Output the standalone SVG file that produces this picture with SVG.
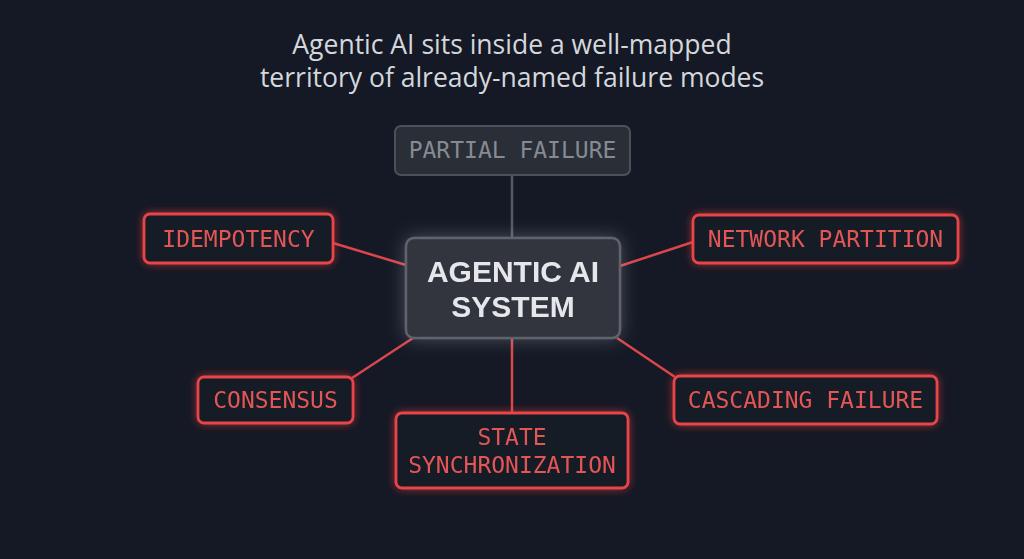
<svg xmlns="http://www.w3.org/2000/svg" width="1024" height="559" viewBox="0 0 1024 559">
<defs>
<style>
.title{font-family:"Open Sans","Liberation Sans",sans-serif;font-size:26.5px;fill:#d4d7dc;text-anchor:middle}
.mono{font-family:"DejaVu Sans Mono","Liberation Mono",monospace;font-size:23px;text-anchor:middle}
.red{fill:#e25656}
.gray{fill:#868a92}
.rbox{fill:#161b26;stroke:#e8444a;stroke-width:2.8}
.gbox{fill:#2a2e37;stroke:#4c5059;stroke-width:2}
.cbox{fill:#30343d;stroke:#60646c;stroke-width:2.5}
.center{font-family:"Liberation Sans",Arial,sans-serif;font-weight:bold;font-size:30px;fill:#e6e7ea;text-anchor:middle}
.rline{stroke:#d9464c;stroke-width:2.5;fill:none}
.gline{stroke:#555962;stroke-width:2.5;fill:none}
</style>
<filter id="rglow" x="-30%" y="-50%" width="160%" height="200%">
<feGaussianBlur in="SourceAlpha" stdDeviation="4" result="b"/>
<feFlood flood-color="#ff3b3b" flood-opacity="0.55"/>
<feComposite in2="b" operator="in" result="g"/>
<feMerge><feMergeNode in="g"/><feMergeNode in="SourceGraphic"/></feMerge>
</filter>
<filter id="wglow" x="-30%" y="-40%" width="160%" height="180%">
<feGaussianBlur in="SourceAlpha" stdDeviation="9" result="b"/>
<feFlood flood-color="#c8ccd6" flood-opacity="0.3"/>
<feComposite in2="b" operator="in" result="g"/>
<feMerge><feMergeNode in="g"/><feMergeNode in="SourceGraphic"/></feMerge>
</filter>
</defs>
<rect width="1024" height="559" fill="#141925"/>
<g id="title">
<text class="title" x="512" y="54">Agentic AI sits inside a well-mapped</text>
<text class="title" x="512" y="87">territory of already-named failure modes</text>
</g>
<g id="connectors">
<line class="gline" x1="512" y1="175" x2="512" y2="238"/>
<line class="rline" x1="333" y1="243" x2="406" y2="265"/>
<line class="rline" x1="620" y1="266" x2="693" y2="242"/>
<line class="rline" x1="413" y1="338" x2="352" y2="378"/>
<line class="rline" x1="512" y1="338" x2="512" y2="413"/>
<line class="rline" x1="617" y1="338" x2="675" y2="377"/>
</g>
<g id="partial-failure">
<rect class="gbox" x="395" y="126" width="235" height="49" rx="6"/>
<text class="mono gray" x="512.5" y="158">PARTIAL FAILURE</text>
</g>
<g id="agentic-ai-system" filter="url(#wglow)">
<rect class="cbox" x="406" y="238" width="214" height="100" rx="8"/>
<text class="center" x="513" y="282">AGENTIC AI</text>
<text class="center" x="513" y="317">SYSTEM</text>
</g>
<g id="idempotency" filter="url(#rglow)">
<rect class="rbox" x="144" y="214" width="189" height="49" rx="6"/>
<text class="mono red" x="238.5" y="247">IDEMPOTENCY</text>
</g>
<g id="network-partition" filter="url(#rglow)">
<rect class="rbox" x="693" y="215" width="265" height="48" rx="6"/>
<text class="mono red" x="825.5" y="247">NETWORK PARTITION</text>
</g>
<g id="consensus" filter="url(#rglow)">
<rect class="rbox" x="198" y="377" width="155" height="46" rx="6"/>
<text class="mono red" x="275.5" y="408">CONSENSUS</text>
</g>
<g id="state-synchronization" filter="url(#rglow)">
<rect class="rbox" x="396" y="413" width="232" height="75" rx="6"/>
<text class="mono red" x="512" y="445">STATE</text>
<text class="mono red" x="512" y="473">SYNCHRONIZATION</text>
</g>
<g id="cascading-failure" filter="url(#rglow)">
<rect class="rbox" x="674" y="376" width="263" height="48" rx="6"/>
<text class="mono red" x="805.5" y="408">CASCADING FAILURE</text>
</g>
</svg>
